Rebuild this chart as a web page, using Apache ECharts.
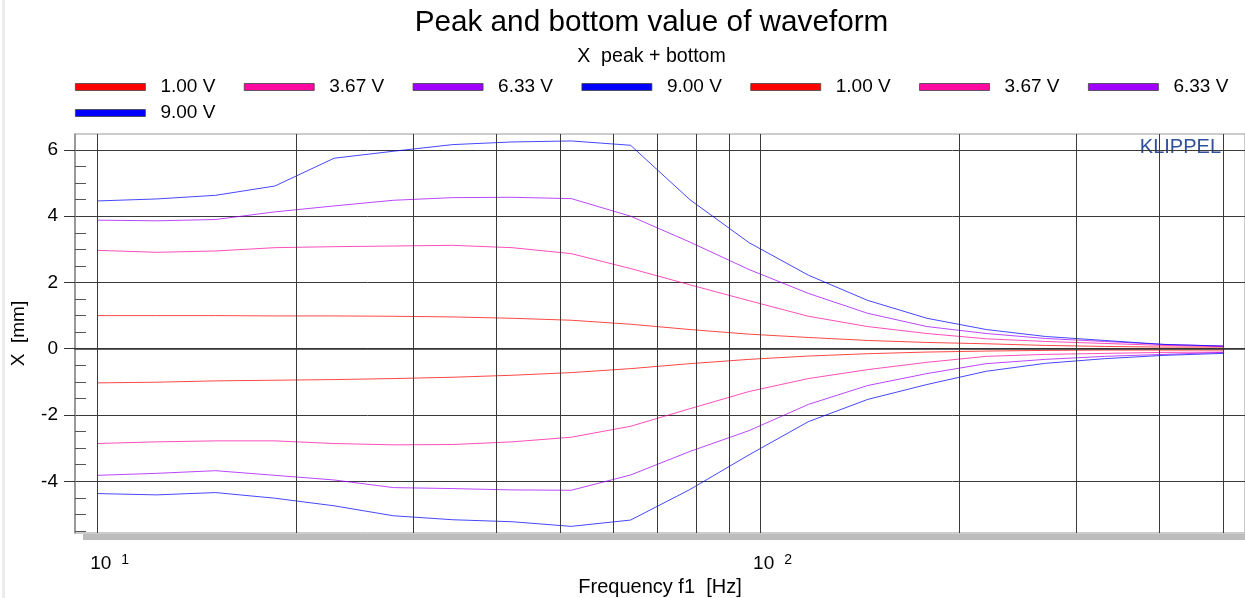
<!DOCTYPE html>
<html>
<head>
<meta charset="utf-8">
<script src="https://cdn.jsdelivr.net/npm/echarts@6/dist/echarts.min.js"></script>
<style>
html,body{margin:0;padding:0;background:#fff;overflow:hidden;}
#chart{width:1245px;height:598px;}
</style>
</head>
<body>
<div id="chart"></div>
<script>
// Frequencies (Hz) of the measured points
const freqs = [10, 12.29, 15.09, 18.54, 22.78, 27.99, 34.39, 42.25, 51.91, 63.78, 78.36, 96.27, 118.3, 145.3, 178.5, 219.4, 269.5, 331.1, 406.9, 500];

// Peak values (mm)
const peak100 = [1.0, 1.0, 1.0, 0.99, 0.99, 0.98, 0.96, 0.92, 0.86, 0.74, 0.58, 0.44, 0.34, 0.25, 0.19, 0.15, 0.1, 0.07, 0.05, 0.05];
const peak367 = [2.97, 2.91, 2.95, 3.05, 3.08, 3.1, 3.12, 3.05, 2.87, 2.42, 1.93, 1.45, 0.98, 0.67, 0.46, 0.3, 0.22, 0.16, 0.1, 0.07];
const peak633 = [3.88, 3.86, 3.9, 4.13, 4.31, 4.48, 4.56, 4.57, 4.53, 4.0, 3.22, 2.39, 1.67, 1.07, 0.67, 0.46, 0.31, 0.22, 0.13, 0.08];
const peak900 = [4.46, 4.52, 4.63, 4.91, 5.75, 5.96, 6.16, 6.24, 6.27, 6.14, 4.5, 3.2, 2.22, 1.46, 0.92, 0.58, 0.37, 0.25, 0.13, 0.08];

// Bottom values (mm)
const bot100 = [-1.03, -1.01, -0.97, -0.95, -0.93, -0.9, -0.86, -0.8, -0.72, -0.6, -0.45, -0.32, -0.22, -0.15, -0.1, -0.07, -0.05, -0.04, -0.04, -0.04];
const bot367 = [-2.86, -2.81, -2.78, -2.78, -2.86, -2.9, -2.89, -2.81, -2.67, -2.34, -1.81, -1.29, -0.9, -0.63, -0.41, -0.23, -0.17, -0.14, -0.11, -0.1];
const bot633 = [-3.82, -3.76, -3.68, -3.82, -3.96, -4.19, -4.22, -4.26, -4.27, -3.81, -3.1, -2.47, -1.68, -1.11, -0.75, -0.45, -0.32, -0.23, -0.17, -0.11];
const bot900 = [-4.37, -4.41, -4.34, -4.51, -4.74, -5.04, -5.16, -5.22, -5.36, -5.17, -4.25, -3.2, -2.2, -1.53, -1.08, -0.68, -0.44, -0.3, -0.2, -0.14];

// Axis ticks
const xGridFreqs = [10, 20, 30, 40, 50, 60, 70, 80, 90, 100, 200, 300, 400, 500];
const xLabelFreqs = [10, 100];
const yMajorTicks = [-4, -2, 0, 2, 4, 6];
const yMinorTicks = [-5.5, -5, -4.5, -3.5, -3, -2.5, -1.5, -1, -0.5, 0.5, 1, 1.5, 2.5, 3, 3.5, 4.5, 5, 5.5];

const legendLabels = ['1.00 V', '3.67 V', '6.33 V', '9.00 V'];
const colors = ['#ff0000', '#ff0aa0', '#a000ff', '#0000ff'];

const FONT = "'Liberation Sans', Arial, sans-serif";

const peaks = [peak100, peak367, peak633, peak900];
const bottoms = [bot100, bot367, bot633, bot900];

const series = [];
const names = [];
[['peak', peaks], ['bottom', bottoms]].forEach(([kind, arrs]) => {
  arrs.forEach((arr, i) => {
    const name = kind + '|' + legendLabels[i];
    names.push(name);
    series.push({
      type: 'line',
      name: name,
      xAxisIndex: 0,
      yAxisIndex: 0,
      data: freqs.map((f, j) => [f, arr[j]]),
      symbol: 'none',
      color: colors[i],
      lineStyle: { width: 1, color: colors[i], opacity: 0.72 },
      silent: true
    });
  });
});

const legendCommon = {
  orient: 'horizontal',
  left: 75,
  padding: 0,
  itemWidth: 70,
  itemHeight: 7,
  itemGap: 28.5,
  icon: 'rect',
  selectedMode: false,
  itemStyle: { borderColor: '#444', borderWidth: 0.8 },
  textStyle: { fontFamily: FONT, fontSize: 19, color: '#000', padding: [0, 0, 0, 10], lineHeight: 20 },
  formatter: n => n.split('|')[1]
};

const chart = echarts.init(document.getElementById('chart'), null, { renderer: 'canvas', width: 1245, height: 598 });
chart.setOption({
  animation: false,
  backgroundColor: '#fff',
  title: [
    { text: 'Peak and bottom value of waveform', left: 646.5, textAlign: 'center', top: 3,
      textStyle: { fontFamily: FONT, fontSize: 29.7, fontWeight: 'normal', color: '#000' } },
    { text: 'X  peak + bottom', left: 646.5, textAlign: 'center', top: 42,
      textStyle: { fontFamily: FONT, fontSize: 19.6, fontWeight: 'normal', color: '#000' } }
  ],
  legend: [
    Object.assign({}, legendCommon, { top: 77, data: names.slice(0, 7) }),
    Object.assign({}, legendCommon, { top: 103, data: names.slice(7) })
  ],
  grid: { left: 75, top: 134, width: 1170, height: 399, outerBoundsMode: 'none', containLabel: false,
          show: true, borderColor: '#999', borderWidth: 1, backgroundColor: 'transparent' },
  xAxis: [
    {
      type: 'log', logBase: 10, min: 9.26, max: 539, position: 'bottom',
      axisLine: { show: true, lineStyle: { color: '#333', width: 1.5 } },
      axisTick: { show: false, customValues: xGridFreqs },
      axisLabel: { show: false },
      splitLine: { show: true, lineStyle: { color: '#3a3a3a', width: 1 } },
      z: 5
    },
    {
      type: 'log', logBase: 10, min: 9.26, max: 539, position: 'bottom',
      axisLine: { show: false },
      axisTick: { show: true, customValues: xLabelFreqs, length: 15, lineStyle: { color: '#333' } },
      axisLabel: {
        show: true, customValues: xLabelFreqs, margin: 20, padding: [0, 0, 0, 25],
        formatter: v => '{b|10}{s|' + Math.round(Math.log10(v)) + '}',
        rich: {
          b: { fontFamily: FONT, fontSize: 19, color: '#000' },
          s: { fontFamily: FONT, fontSize: 14, color: '#000', verticalAlign: 'top', padding: [0, 0, 7, 10] }
        }
      },
      splitLine: { show: false },
      name: 'Frequency f1  [Hz]', nameLocation: 'middle', nameGap: 43,
      nameTextStyle: { fontFamily: FONT, fontSize: 20, color: '#000' }
    }
  ],
  yAxis: [
    {
      type: 'value', min: -5.56, max: 6.48, position: 'left',
      axisLine: { show: true, lineStyle: { color: '#888', width: 1.5 } },
      axisTick: { show: true, inside: false, length: 11, customValues: yMajorTicks, lineStyle: { color: '#333' } },
      axisLabel: { show: true, customValues: yMajorTicks, margin: 17, fontFamily: FONT, fontSize: 19, color: '#000' },
      splitLine: { show: true, lineStyle: { color: '#3a3a3a', width: 1 } },
      name: 'X  [mm]', nameLocation: 'middle', nameGap: 47, nameRotate: 90,
      nameTextStyle: { fontFamily: FONT, fontSize: 19, color: '#000' }
    },
    {
      type: 'value', min: -5.56, max: 6.48, position: 'left',
      axisLine: { show: false },
      axisTick: { show: true, inside: true, length: 11, customValues: yMinorTicks, lineStyle: { color: '#555' } },
      axisLabel: { show: false },
      splitLine: { show: false }
    }
  ],
  graphic: [
    { type: 'rect', left: 2, top: 0, shape: { width: 3, height: 598 }, style: { fill: '#ececec' }, silent: true },
    { type: 'rect', left: 83, top: 534, shape: { width: 1162, height: 6 }, style: { fill: '#bdbdbd' }, silent: true, z: 1 },
    { type: 'text', right: 24, top: 137, style: { text: 'KLIPPEL', fontFamily: FONT, fontSize: 20, fill: '#2f4f9f' }, silent: true }
  ],
  series: series
});
</script>
</body>
</html>
